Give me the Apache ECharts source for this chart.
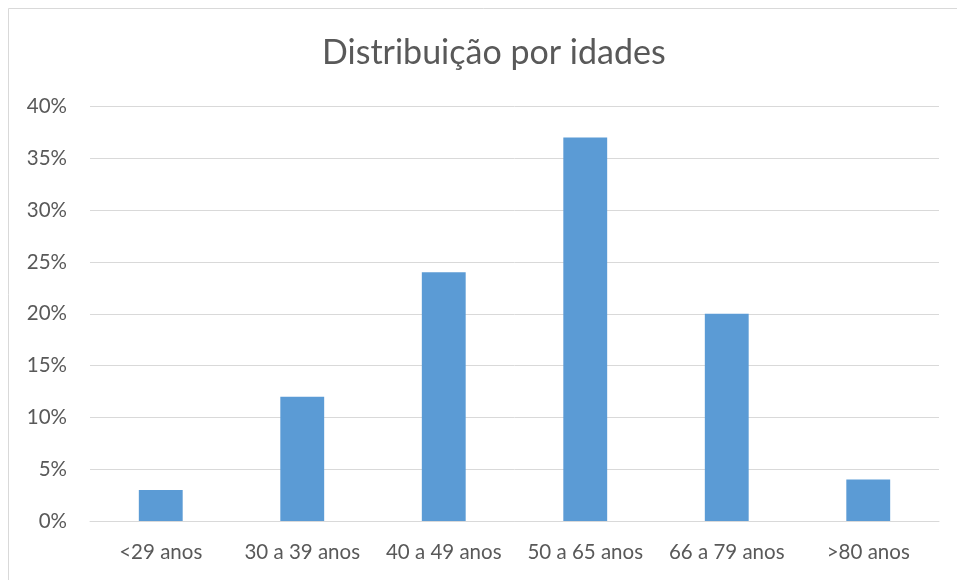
<!DOCTYPE html>
<html><head><meta charset="utf-8">
<script src="https://cdn.jsdelivr.net/npm/echarts@6/dist/echarts.min.js"></script>
<style>html,body{margin:0;padding:0;background:#fff}#c{width:957px;height:580px}</style>
</head><body><div id="c"></div>
<script>
const categories = ['<29 anos','30 a 39 anos','40 a 49 anos','50 a 65 anos','66 a 79 anos','>80 anos'];
const values = [3, 12, 24, 37, 20, 4];
const title = 'Distribuição por idades';
const FONT = 'Lato, "Open Sans", sans-serif';
const chart = echarts.init(document.getElementById('c'), null, {renderer:'canvas'});
chart.setOption({
  animation: false,
  backgroundColor: '#fff',
  title: {text: title, left: 317, top: 31, textStyle: {fontFamily: FONT, fontSize: 34, fontWeight: 'normal', color: '#595959'}},
  graphic: [{type:'rect', shape:{x:8.5, y:8.5, width:1000, height:1000}, style:{fill:'none', stroke:'#d9d9d9', lineWidth:1}, silent:true}],
  grid: {left: 90, right: 18, top: 106.5, bottom: 59, containLabel: false},
  xAxis: {type:'category', data: categories,
    axisLine:{show:true, lineStyle:{color:'#d9d9d9', width:1}}, axisTick:{show:false},
    axisLabel:{fontFamily: FONT, fontSize: 20.5, color:'#595959', margin: 21, interval:0}},
  yAxis: {type:'value', min:0, max:40, interval:5,
    axisLabel:{formatter:'{value}%', fontFamily: FONT, fontSize: 20.5, color:'#595959', margin: 23},
    axisLine:{show:false}, axisTick:{show:false},
    splitLine:{lineStyle:{color:'#d9d9d9', width:1}}},
  series: [{type:'bar', data: values, barWidth: '31%', itemStyle:{color:'#5b9bd5'}}]
});
</script></body></html>
